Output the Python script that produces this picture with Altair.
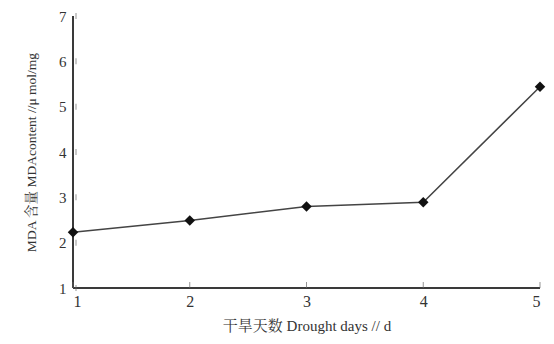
import altair as alt
import pandas as pd

days = [1, 2, 3, 4, 5]
mda = [2.23, 2.49, 2.80, 2.89, 5.44]
x_ticks = [1, 2, 3, 4, 5]
y_ticks = [1, 2, 3, 4, 5, 6, 7]

df = pd.DataFrame({"day": days, "mda": mda})
dfx = pd.DataFrame({"t": x_ticks})
dfy = pd.DataFrame({"t": y_ticks})

FONT = "Liberation Serif, Noto Serif CJK SC, Noto Sans CJK SC"
AX = "#3a3a3a"

xs = alt.Scale(domain=[1, 5], nice=False, zero=False)
ys = alt.Scale(domain=[1, 7], nice=False, zero=False)

base = alt.Chart(df).encode(
    x=alt.X("day:Q", scale=xs,
            axis=alt.Axis(values=x_ticks, format="d", ticks=False, domain=False,
                          title="干旱天数 Drought days // d", titlePadding=9,
                          labelPadding=5, labelFontSize=16, titleFontSize=15)),
    y=alt.Y("mda:Q", scale=ys,
            axis=alt.Axis(values=y_ticks, format="d", ticks=False, domain=False,
                          title="MDA 含量 MDAcontent //μ mol/mg", titlePadding=20,
                          labelPadding=7, labelFontSize=15, titleFontSize=13.5)),
)

left_axis = alt.Chart(dfx.head(1)).mark_rule(color=AX, strokeWidth=2).encode(
    x=alt.datum(1, scale=xs), y=alt.datum(1, scale=ys), y2=alt.datum(7))
bottom_axis = alt.Chart(dfx.head(1)).mark_rule(color=AX, strokeWidth=2).encode(
    y=alt.datum(1, scale=ys), x=alt.datum(1, scale=xs), x2=alt.datum(5))

yt = alt.Chart(dfy).mark_tick(color="#666", thickness=1, size=6, xOffset=3).encode(
    y=alt.Y("t:Q", scale=ys), x=alt.datum(1, scale=xs))
xt = alt.Chart(dfx).mark_tick(color="#666", thickness=1, size=6, yOffset=-3).encode(
    x=alt.X("t:Q", scale=xs), y=alt.datum(1, scale=ys))

line = base.mark_line(color="#444", strokeWidth=1.5)
pts = base.mark_point(shape="diamond", filled=True, color="#111", size=110, opacity=1)

chart = (line + left_axis + bottom_axis + yt + xt + pts).properties(
    width=467, height=272,
    autosize=alt.AutoSizeParams(type="none"),
    padding={"left": 65, "top": 8, "right": 6, "bottom": 46},
    background="white",
).configure_view(stroke=None).configure_axis(
    grid=False, labelFont=FONT, titleFont=FONT,
    labelColor="#333", titleColor="#333", titleFontWeight="normal",
)

chart.save("out.html", embed_options={"renderer": "svg", "actions": False})
